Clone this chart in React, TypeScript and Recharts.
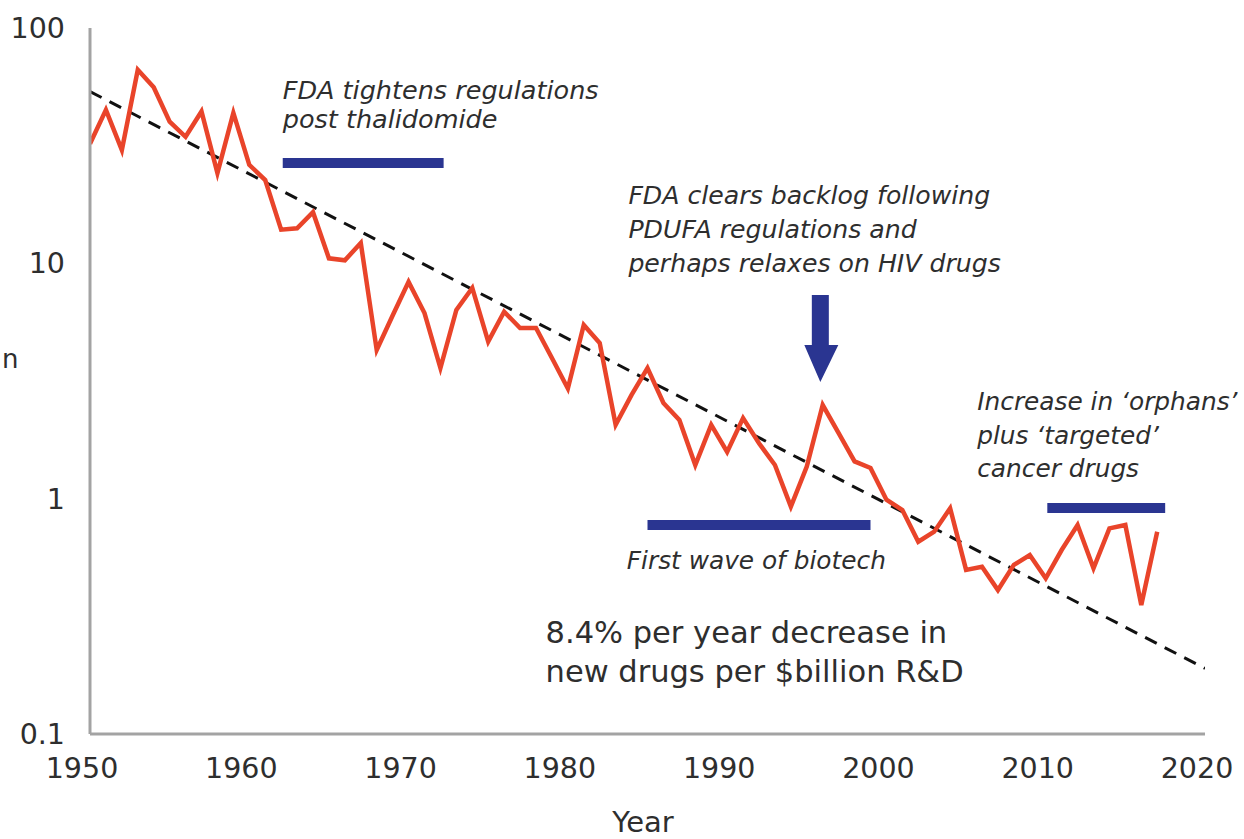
import { LineChart, Line, XAxis, YAxis, ReferenceLine, ReferenceDot } from 'recharts'

// one point per year
const years = [
    1950, 1951, 1952, 1953, 1954, 1955, 1956, 1957, 1958, 1959,
    1960, 1961, 1962, 1963, 1964, 1965, 1966, 1967, 1968, 1969,
    1970, 1971, 1972, 1973, 1974, 1975, 1976, 1977, 1978, 1979,
    1980, 1981, 1982, 1983, 1984, 1985, 1986, 1987, 1988, 1989,
    1990, 1991, 1992, 1993, 1994, 1995, 1996, 1997, 1998, 1999,
    2000, 2001, 2002, 2003, 2004, 2005, 2006, 2007, 2008, 2009,
    2010, 2011, 2012, 2013, 2014, 2015, 2016, 2017
]
const drugsPerBillion = [
    32.2, 44.9, 30.3, 66.4, 56.0, 40.0, 34.5, 44.2, 24.2, 43.6,
    26.2, 22.6, 13.9, 14.1, 16.5, 10.5, 10.3, 12.2, 4.28, 6.0,
    8.34, 6.15, 3.59, 6.34, 7.86, 4.65, 6.23, 5.31, 5.31, 3.96,
    2.94, 5.47, 4.59, 2.06, 2.76, 3.59, 2.55, 2.16, 1.39, 2.06,
    1.58, 2.2, 1.72, 1.39, 0.925, 1.37, 2.5, 1.9, 1.44, 1.35,
    0.99, 0.895, 0.656, 0.724, 0.91, 0.498, 0.514, 0.409, 0.523, 0.576,
    0.459, 0.605, 0.773, 0.506, 0.748, 0.773, 0.353, 0.724
]

// fitted trend (8.4% per year), end points
const trendYears = [1950, 2020]
const trendValues = [53.7, 0.19]

const xTicks = [1950, 1960, 1970, 1980, 1990, 2000, 2010, 2020]
const yTicks = [0.1, 1, 10, 100]

// horizontal blue bars: [from year, to year, value]
const periodBars = [
    [1962.1, 1972.2, 26.7],
    [1985.0, 1999.0, 0.773],
    [2010.1, 2017.5, 0.913]
]

// text notes: year / value of the first line's start
const notes = [
    { year: 1962.1, value: 49.9, lines: ['FDA tightens regulations', 'post thalidomide'], italic: true, size: 25.5, gap: 29 },
    { year: 1983.8, value: 17.9, lines: ['FDA clears backlog following', 'PDUFA regulations and', 'perhaps relaxes on HIV drugs'], italic: true, size: 25.2, gap: 34 },
    { year: 1983.7, value: 0.503, lines: ['First wave of biotech'], italic: true, size: 24.8, gap: 34 },
    { year: 2005.7, value: 2.38, lines: ['Increase in \u2018orphans\u2019', 'plus \u2018targeted\u2019', 'cancer drugs'], italic: true, size: 24.8, gap: 33.5 },
    { year: 1978.6, value: 0.2435, lines: ['8.4% per year decrease in', 'new drugs per $billion R&D'], italic: false, size: 30.5, gap: 39 }
]

const arrowTip = { year: 1995.85, value: 3.13 }

const seriesData = years.map((year, i) => ({ year, value: drugsPerBillion[i] }))
const trendData = trendYears.map((year, i) => ({ year, value: trendValues[i] }))

const RED = '#E9442A'
const NAVY = '#2A3591'
const TEXT = '#2e2e2e'
const FONT = '"DejaVu Sans", sans-serif'

const XTick = ({ x, y, payload }: any) => (
    <text x={x - 8} y={y + 36} textAnchor="middle" fill={TEXT} fontSize={28.5} fontFamily={FONT}>
        {payload.value}
    </text>
)

const YTick = ({ x, y, payload }: any) => (
    <text x={x - 17} y={y + 10} textAnchor="end" fill={TEXT} fontSize={28.5} fontFamily={FONT}>
        {payload.value === 0.1 ? '0.1' : payload.value}
    </text>
)

const noteShape = (note: any) => (p: any) => (
    <text
        x={p.cx}
        y={p.cy}
        fill={TEXT}
        fontSize={note.size}
        fontFamily={FONT}
        fontStyle={note.italic ? 'italic' : 'normal'}
    >
        {note.lines.map((line: string, i: number) => (
            <tspan key={i} x={p.cx} dy={i === 0 ? 0 : note.gap}>{line}</tspan>
        ))}
    </text>
)

const ArrowShape = ({ cx, cy }: any) => (
    <path
        d={`M ${cx - 8.5} ${cy - 87} L ${cx + 8.5} ${cy - 87} L ${cx + 8.5} ${cy - 37} L ${cx + 18} ${cy - 37} L ${cx} ${cy} L ${cx - 16} ${cy - 37} L ${cx - 8.5} ${cy - 37} Z`}
        fill={NAVY}
    />
)

export default function App() {
    return (
        <div style={{ position: 'absolute', left: 0, top: 0, background: '#fff' }}>
            <LineChart width={1244} height={839} margin={{ top: 28, right: 39, bottom: 75, left: 30 }}>
                <XAxis
                    type="number"
                    dataKey="year"
                    domain={[1950, 2020]}
                    ticks={xTicks}
                    allowDataOverflow
                    tickLine={false}
                    axisLine={{ stroke: '#a3a3a3', strokeWidth: 3 }}
                    tick={<XTick />}
                    height={30}
                />
                <YAxis
                    type="number"
                    scale="log"
                    domain={[0.1, 100]}
                    ticks={yTicks}
                    allowDataOverflow
                    tickLine={false}
                    axisLine={{ stroke: '#a3a3a3', strokeWidth: 3 }}
                    tick={<YTick />}
                    width={60}
                />
                {periodBars.map((b, i) => (
                    <ReferenceLine
                        key={i}
                        segment={[{ x: b[0], y: b[2] }, { x: b[1], y: b[2] }]}
                        stroke={NAVY}
                        strokeWidth={10}
                        ifOverflow="visible"
                    />
                ))}
                <Line
                    data={trendData}
                    dataKey="value"
                    stroke="#111"
                    strokeWidth={3}
                    strokeDasharray="13 9"
                    dot={false}
                    activeDot={false}
                    isAnimationActive={false}
                />
                <Line
                    data={seriesData}
                    dataKey="value"
                    stroke={RED}
                    strokeWidth={4.5}
                    strokeLinejoin="miter"
                    dot={false}
                    activeDot={false}
                    isAnimationActive={false}
                />
                <ReferenceDot x={arrowTip.year} y={arrowTip.value} r={0} ifOverflow="visible" shape={<ArrowShape />} />
                {notes.map((n, i) => (
                    <ReferenceDot key={i} x={n.year} y={n.value} r={0} ifOverflow="visible" shape={noteShape(n)} />
                ))}
                {/* only the last letter of the y label is visible in the source image */}
                <text x={2} y={368} textAnchor="start" fill={TEXT} fontSize={26} fontFamily={FONT}>n</text>
                <text x={643} y={832} textAnchor="middle" fill={TEXT} fontSize={29} fontFamily={FONT}>Year</text>
            </LineChart>
        </div>
    )
}
